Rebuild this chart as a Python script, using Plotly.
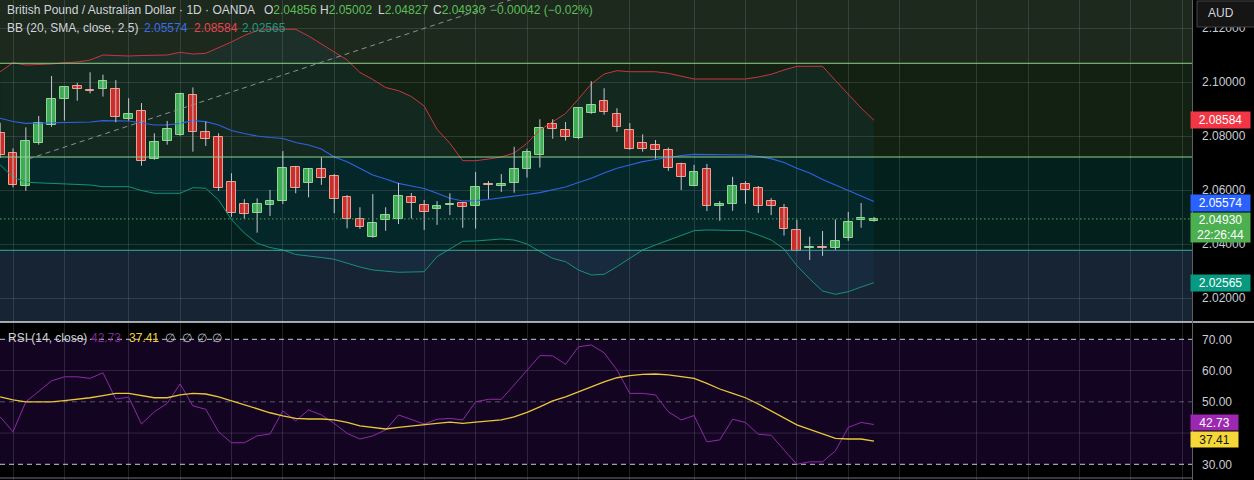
import plotly.graph_objects as go

# ---------------- data ----------------
opens = [2.0810, 2.0736, 2.0616, 2.0775, 2.0842, 2.0936, 2.0984, 2.0970, 2.0973, 2.0973,
         2.0864, 2.0891, 2.0714, 2.0780, 2.0803, 2.0951, 2.0814, 2.0795, 2.0631, 2.0547,
         2.0514, 2.0543, 2.0558, 2.0684, 2.0625, 2.0677, 2.0651, 2.0573, 2.0494, 2.0425,
         2.0488, 2.0494, 2.0573, 2.0543, 2.0529, 2.0544, 2.0551, 2.0540, 2.0623, 2.0616,
         2.0627, 2.0679, 2.0730, 2.0843, 2.0822, 2.0794, 2.0884, 2.0929, 2.0880, 2.0821,
         2.0773, 2.0766, 2.0748, 2.0695, 2.0616, 2.0677, 2.0542, 2.0549, 2.0622, 2.0606,
         2.0558, 2.0532, 2.0451, 2.0385, 2.0389, 2.0385, 2.0422, 2.0488, 2.04856]
highs = [2.0849, 2.0754, 2.0832, 2.0874, 2.1022, 2.0982, 2.0997, 2.1036, 2.1027, 2.1007,
         2.0940, 2.0922, 2.0810, 2.0856, 2.0960, 2.0980, 2.0853, 2.0810, 2.0662, 2.0566,
         2.0569, 2.0600, 2.0744, 2.0689, 2.0681, 2.0721, 2.0659, 2.0581, 2.0536, 2.0585,
         2.0536, 2.0626, 2.0589, 2.0563, 2.0559, 2.0588, 2.0556, 2.0667, 2.0633, 2.0659,
         2.0760, 2.0753, 2.0862, 2.0862, 2.0852, 2.0905, 2.1003, 2.0977, 2.0903, 2.0848,
         2.0806, 2.0785, 2.0757, 2.0701, 2.0693, 2.0696, 2.0559, 2.0649, 2.0633, 2.0615,
         2.0570, 2.0548, 2.0489, 2.0427, 2.0448, 2.0491, 2.0519, 2.0552, 2.05002]
lows = [2.0719, 2.0610, 2.0597, 2.0768, 2.0834, 2.0857, 2.0931, 2.0958, 2.0946, 2.0851,
        2.0857, 2.0690, 2.0712, 2.0768, 2.0801, 2.0742, 2.0763, 2.0597, 2.0501, 2.0493,
        2.0442, 2.0504, 2.0548, 2.0588, 2.0573, 2.0619, 2.0514, 2.0458, 2.0456, 2.0423,
        2.0449, 2.0474, 2.0494, 2.0452, 2.0471, 2.0507, 2.0460, 2.0457, 2.0567, 2.0593,
        2.0590, 2.0646, 2.0683, 2.0790, 2.0783, 2.0788, 2.0882, 2.0879, 2.0816, 2.0749,
        2.0742, 2.0716, 2.0671, 2.0600, 2.0614, 2.0522, 2.0486, 2.0523, 2.0549, 2.0515,
        2.0507, 2.0431, 2.0373, 2.0341, 2.0356, 2.0378, 2.0412, 2.0460, 2.04827]
closes = [2.0730, 2.0619, 2.0781, 2.0847, 2.0936, 2.0980, 2.0975, 2.0967, 2.1003, 2.0869,
          2.0880, 2.0706, 2.0777, 2.0825, 2.0956, 2.0814, 2.0788, 2.0606, 2.0514, 2.0510,
          2.0547, 2.0558, 2.0680, 2.0606, 2.0677, 2.0643, 2.0566, 2.0494, 2.0462, 2.0478,
          2.0506, 2.0577, 2.0551, 2.0520, 2.0541, 2.0548, 2.0536, 2.0611, 2.0619, 2.0622,
          2.0678, 2.0740, 2.0829, 2.0825, 2.0797, 2.0903, 2.0914, 2.0888, 2.0832, 2.0751,
          2.0751, 2.0747, 2.0683, 2.0647, 2.0666, 2.0540, 2.0548, 2.0614, 2.0601, 2.0542,
          2.0540, 2.0457, 2.0375, 2.0389, 2.0385, 2.0410, 2.0480, 2.04972, 2.04930]

bb_upper = [2.10381, 2.10715, 2.10630, 2.10641, 2.10667, 2.10715, 2.10741, 2.10815, 2.11000, 2.10981,
            2.10963, 2.10981, 2.11000, 2.11000, 2.11100, 2.11037, 2.11063, 2.11259, 2.11481, 2.11722,
            2.11907, 2.11952, 2.11952, 2.11952, 2.11704, 2.11407, 2.11130, 2.10815, 2.10352, 2.10093,
            2.09796, 2.09678, 2.09463, 2.09111, 2.08248, 2.07730, 2.07085, 2.07085, 2.07148, 2.07222,
            2.07370, 2.07730, 2.08222, 2.08530, 2.08833, 2.09370, 2.09926, 2.10296, 2.10419, 2.10381,
            2.10381, 2.10381, 2.10322, 2.10222, 2.10111, 2.10111, 2.10111, 2.10111, 2.10111, 2.10185,
            2.10285, 2.10444, 2.10581, 2.10581, 2.10581, 2.10056, 2.09556, 2.09037, 2.08584]
bb_mid = [2.08656, 2.08537, 2.08470, 2.08481, 2.08489, 2.08493, 2.08500, 2.08519, 2.08567, 2.08563,
          2.08556, 2.08481, 2.08407, 2.08407, 2.08470, 2.08567, 2.08530, 2.08407, 2.08204, 2.08093,
          2.08000, 2.07944, 2.07907, 2.07759, 2.07667, 2.07519, 2.07222, 2.07048, 2.06796, 2.06556,
          2.06407, 2.06248, 2.06148, 2.06056, 2.05878, 2.05693, 2.05593, 2.05604, 2.05648, 2.05704,
          2.05752, 2.05833, 2.05900, 2.06000, 2.06111, 2.06278, 2.06433, 2.06630, 2.06804, 2.06926,
          2.07048, 2.07130, 2.07211, 2.07270, 2.07322, 2.07322, 2.07322, 2.07315, 2.07296, 2.07241,
          2.07159, 2.07019, 2.06804, 2.06630, 2.06389, 2.06185, 2.05981, 2.05778, 2.05574]
bb_lower = [2.06926, 2.06481, 2.06285, 2.06267, 2.06259, 2.06248, 2.06222, 2.06185, 2.06122, 2.06122,
            2.06122, 2.05981, 2.05878, 2.05878, 2.05878, 2.06085, 2.06063, 2.05630, 2.04907, 2.04407,
            2.04026, 2.03870, 2.03778, 2.03611, 2.03563, 2.03500, 2.03433, 2.03285, 2.03148, 2.03037,
            2.02981, 2.02952, 2.02963, 2.02974, 2.03530, 2.03804, 2.04100, 2.04111, 2.04148, 2.04185,
            2.04148, 2.04000, 2.03722, 2.03470, 2.03344, 2.03037, 2.02852, 2.02878, 2.03159, 2.03481,
            2.03778, 2.03963, 2.04148, 2.04333, 2.04493, 2.04519, 2.04519, 2.04507, 2.04493, 2.04333,
            2.04148, 2.03815, 2.03197, 2.02704, 2.02259, 2.02137, 2.02233, 2.02407, 2.02565]

rsi = [45.2, 40.4, 50.0, 53.2, 56.7, 58.0, 58.0, 57.5, 59.3, 50.9,
       51.5, 42.9, 46.8, 49.5, 55.7, 48.7, 47.6, 40.4, 36.9, 36.9,
       39.1, 39.7, 47.1, 43.9, 47.4, 45.8, 43.1, 39.9, 38.1, 39.1,
       41.0, 45.8, 44.4, 42.9, 44.4, 44.7, 44.2, 50.0, 50.8, 50.8,
       55.4, 60.0, 64.8, 64.7, 62.0, 67.6, 68.2, 65.7, 60.2, 52.7,
       52.7, 52.2, 46.8, 44.2, 45.6, 37.2, 37.8, 44.4, 43.4, 39.6,
       39.3, 34.6, 30.0, 30.8, 30.8, 34.3, 41.8, 43.4, 42.73]
rsi_ma = [51.6, 50.6, 50.0, 50.0, 50.0, 50.4, 50.8, 51.3, 52.0, 52.7,
          52.7, 51.9, 51.3, 51.3, 52.2, 52.7, 52.5, 51.6, 50.3, 49.0,
          47.7, 46.5, 45.5, 44.7, 44.5, 44.5, 44.2, 43.4, 42.3, 41.7,
          41.3, 41.8, 42.3, 42.8, 43.1, 43.5, 43.1, 43.5, 43.9, 44.2,
          45.2, 46.6, 48.4, 50.3, 51.6, 53.2, 54.8, 56.4, 57.7, 58.4,
          58.8, 58.9, 58.6, 58.0, 57.5, 55.9, 54.1, 52.7, 51.3, 49.3,
          47.1, 44.7, 42.6, 41.2, 39.7, 38.3, 38.1, 38.1, 37.41]

idx = list(range(len(closes)))
grid_idx = [1, 5, 10, 14, 18, 22, 26, 33, 37, 41, 45, 49, 54, 58, 62, 66, 70, 76, 80, 84, 88, 92]
price_ticks = [2.02, 2.04, 2.06, 2.08, 2.10, 2.12]
price_ticktext = ["2.02000", "2.04000", "2.06000", "2.08000", "2.10000", "2.12000"]
rsi_ticks = [30, 50, 60, 70]          # the 40.00 label is hidden behind the value tags
rsi_ticktext = ["30.00", "50.00", "60.00", "70.00"]
rsi_grid = [40, 60]
zone_levels = [2.10693, 2.07222, 2.03767]
trend_x = [2.2, 40.0]
trend_y = [2.07148, 2.13085]
prev_close = 2.04972

# ---------------- geometry helpers (layout only) ----------------
W, H = 1254, 480
def fx(px):
    return px / W
def fy(py):
    return 1 - py / H

PLOT_R = 1192
FONT = "Liberation Sans"
GRAY = "#d1d4dc"
GREEN_T = "#5cbf5a"
BLUE = "#3a6ee8"
RED = "#e8434f"
TEAL = "#1d9a86"

UP_FILL, UP_LINE = "#3fae49", "#8fdc8a"
DN_FILL, DN_LINE = "#d9261c", "#f6a38a"
WICK = "#c4c7cf"

fig = go.Figure()

# Bollinger fill
fig.add_trace(go.Scatter(x=idx, y=bb_lower, mode="lines", line=dict(width=0),
                         hoverinfo="skip", showlegend=False))
fig.add_trace(go.Scatter(x=idx, y=bb_upper, mode="lines", line=dict(width=0),
                         fill="tonexty", fillcolor="rgba(33,150,243,0.06)",
                         hoverinfo="skip", showlegend=False))
fig.add_trace(go.Scatter(x=idx, y=bb_upper, mode="lines", line=dict(color="#c8363f", width=1),
                         hoverinfo="skip", showlegend=False))
fig.add_trace(go.Scatter(x=idx, y=bb_mid, mode="lines", line=dict(color="#2f62e0", width=1.2),
                         hoverinfo="skip", showlegend=False))
fig.add_trace(go.Scatter(x=idx, y=bb_lower, mode="lines", line=dict(color="#15917c", width=1),
                         hoverinfo="skip", showlegend=False))

# wicks
wx, wy = [], []
for i in idx:
    wx += [i, i, None]
    wy += [lows[i], highs[i], None]
fig.add_trace(go.Scatter(x=wx, y=wy, mode="lines", line=dict(color=WICK, width=1),
                         hoverinfo="skip", showlegend=False))

# bodies
base = [min(o, c) for o, c in zip(opens, closes)]
height = [max(abs(c - o), 0.00008) for o, c in zip(opens, closes)]
up = [c >= o for o, c in zip(opens, closes)]
fig.add_trace(go.Bar(x=idx, y=height, base=base, width=0.68,
                     marker=dict(color=[UP_FILL if u else DN_FILL for u in up],
                                 line=dict(color=[UP_LINE if u else DN_LINE for u in up], width=1)),
                     hoverinfo="skip", showlegend=False))

# RSI
fig.add_trace(go.Scatter(x=idx, y=rsi, mode="lines", line=dict(color="#8e2aa6", width=1),
                         xaxis="x2", yaxis="y2", hoverinfo="skip", showlegend=False))
fig.add_trace(go.Scatter(x=idx, y=rsi_ma, mode="lines", line=dict(color="#e8c83a", width=1.3),
                         xaxis="x2", yaxis="y2", hoverinfo="skip", showlegend=False))

shapes = []
# price zones
zone_bounds = [(zone_levels[0], 3.0, "#1d291d"),
               (zone_levels[1], zone_levels[0], "#132112"),
               (zone_levels[2], zone_levels[1], "#03201d"),
               (1.0, zone_levels[2], "#172434")]
for lo, hi, col in zone_bounds:
    shapes.append(dict(type="rect", xref="x domain", yref="y", x0=0, x1=1, y0=lo, y1=hi,
                       fillcolor=col, line=dict(width=0), layer="below"))
for lev, col in zip(zone_levels, ["#8fd48a", "#8fd48a", "#3aaaa0"]):
    shapes.append(dict(type="line", xref="x domain", yref="y", x0=0, x1=1, y0=lev, y1=lev,
                       line=dict(color=col, width=1), layer="above"))
# close dotted
shapes.append(dict(type="line", xref="x domain", yref="y", x0=0, x1=1, y0=closes[-1], y1=closes[-1],
                   line=dict(color="#4caf50", width=1, dash="1.5px,2.5px"), layer="above"))
# trend line
shapes.append(dict(type="line", xref="x", yref="y", x0=trend_x[0], x1=trend_x[1],
                   y0=trend_y[0], y1=trend_y[1],
                   line=dict(color="#8c9096", width=1, dash="5px,4px"), layer="above"))
# RSI band fill + grid
shapes.append(dict(type="rect", xref="x2 domain", yref="y2", x0=0, x1=1, y0=30, y1=70,
                   fillcolor="#130522", line=dict(width=0), layer="below"))
for g in rsi_grid:
    shapes.append(dict(type="line", xref="x2 domain", yref="y2", x0=0, x1=1, y0=g, y1=g,
                       line=dict(color="rgba(210,200,230,0.16)", width=1), layer="below"))
for lev, col in [(70, "#c8cad0"), (30, "#c8cad0"), (50, "rgba(150,150,170,0.55)")]:
    shapes.append(dict(type="line", xref="x2 domain", yref="y2", x0=0, x1=1, y0=lev, y1=lev,
                       line=dict(color=col, width=1, dash="5px,4px"), layer="below"))
# frame lines
shapes.append(dict(type="line", xref="paper", yref="paper", x0=0, x1=1, y0=fy(322), y1=fy(322),
                   line=dict(color="#d8dbe2", width=1.5), layer="above"))
shapes.append(dict(type="line", xref="paper", yref="paper", x0=0, x1=fx(PLOT_R), y0=fy(478), y1=fy(478),
                   line=dict(color="#6f7380", width=1), layer="above"))
shapes.append(dict(type="line", xref="paper", yref="paper", x0=fx(PLOT_R + 0.5), x1=fx(PLOT_R + 0.5),
                   y0=0, y1=1, line=dict(color="#5d606b", width=1), layer="above"))
# AUD box
shapes.append(dict(type="rect", xref="paper", yref="paper", x0=fx(1197), x1=fx(1262), y0=fy(27), y1=fy(1),
                   fillcolor="#151515", line=dict(color="#454545", width=1), layer="above"))

ann = []
def txt(px, py, text, color=GRAY, size=12):
    ann.append(dict(xref="paper", yref="paper", x=fx(px), y=fy(py), xanchor="left", yanchor="middle",
                    text=text, showarrow=False, font=dict(family=FONT, size=size, color=color)))

def ohlc_lbl(letter, val):
    return f"{letter}<span style='color:{GREEN_T}'>{val:.5f}</span>"

txt(5, 10, "British Pound / Australian Dollar · 1D · OANDA")
txt(261.5, 10, ohlc_lbl("O", opens[-1]))
txt(318, 10, ohlc_lbl("H", highs[-1]))
txt(375.5, 10, ohlc_lbl("L", lows[-1]))
txt(430.5, 10, ohlc_lbl("C", closes[-1]))
chg = closes[-1] - prev_close
txt(488, 10, f"−{abs(chg):.5f} (−{abs(chg) / prev_close * 100:.2f}%)", GREEN_T)

txt(5, 28, "BB (20, SMA, close, 2.5)")
txt(141.5, 28, f"{bb_mid[-1]:.5f}", BLUE)
txt(191.5, 28, f"{bb_upper[-1]:.5f}", RED)
txt(240, 28, f"{bb_lower[-1]:.5f}", TEAL)

txt(6, 337.5, "RSI (14, close)")
txt(89, 337.5, f"{rsi[-1]:.2f}", "#7e2a9b")
txt(126.5, 337.5, f"{rsi_ma[-1]:.2f}", "#f0d43a")
for px in [163.5, 180, 195, 210]:
    txt(px, 337.5, "∅", "#b8bbc4")

ann.append(dict(xref="paper", yref="paper", x=fx(1206), y=fy(13), xanchor="left", yanchor="middle",
                text="AUD", showarrow=False, font=dict(family=FONT, size=12, color=GRAY)))

def box(val, yref, bg, fg, text, w, h, yshift=0, yanchor="middle"):
    ann.append(dict(xref="paper", yref=yref, x=fx(1190), y=val, xanchor="left", yanchor=yanchor,
                    text=text, showarrow=False, bgcolor=bg, borderpad=1, width=w, height=h,
                    align="center", yshift=yshift,
                    font=dict(family=FONT, size=12, color=fg)))

box(bb_upper[-1], "y", "#f23645", "#ffffff", f"{bb_upper[-1]:.5f}", 57, 14)
box(bb_mid[-1], "y", "#2962ff", "#ffffff", f"{bb_mid[-1]:.5f}", 57, 14, yshift=-1)
box(closes[-1], "y", "#4caf50", "#ffffff", f"{closes[-1]:.5f}<br>22:26:44", 57, 27, yshift=7.2, yanchor="top")
box(bb_lower[-1], "y", "#089981", "#ffffff", f"{bb_lower[-1]:.5f}", 57, 14, yshift=-0.5)
box(rsi[-1], "y2", "#9c27b0", "#ffffff", f"{rsi[-1]:.2f}", 45, 13, yshift=2.5)
box(rsi_ma[-1], "y2", "#f5d838", "#131722", f"{rsi_ma[-1]:.2f}", 45, 13, yshift=1.5)

x_range = [-0.0117, 92.75]
grid_col = "rgba(200,210,205,0.15)"

fig.update_layout(
    width=W, height=H, autosize=False,
    margin=dict(l=0, r=0, t=0, b=0),
    paper_bgcolor="#000000", plot_bgcolor="#000000",
    showlegend=False, hovermode=False, bargap=0,
    font=dict(family=FONT, size=12, color=GRAY),
    xaxis=dict(domain=[0, fx(PLOT_R)], range=x_range, anchor="y",
               tickvals=grid_idx, showticklabels=False, ticks="",
               showgrid=True, gridcolor=grid_col, gridwidth=1, zeroline=False, showline=False,
               fixedrange=True),
    yaxis=dict(domain=[fy(322), 1], range=[2.01111, 2.13037], anchor="x", side="right",
               tickvals=price_ticks, ticktext=price_ticktext, ticks="",
               tickfont=dict(family=FONT, size=12, color="#c9ccd3"), ticklabelstandoff=9,
               showgrid=True, gridcolor=grid_col, gridwidth=1, zeroline=False, showline=False,
               fixedrange=True),
    xaxis2=dict(domain=[0, fx(PLOT_R)], range=x_range, anchor="y2", matches="x",
                tickvals=grid_idx, showticklabels=False, ticks="",
                showgrid=True, gridcolor="rgba(210,200,230,0.16)", gridwidth=1, zeroline=False,
                showline=False, fixedrange=True),
    yaxis2=dict(domain=[0, fy(323)], range=[24.98, 75.22], anchor="x2", side="right",
                tickvals=rsi_ticks, ticktext=rsi_ticktext, ticks="",
                tickfont=dict(family=FONT, size=12, color="#c9ccd3"), ticklabelstandoff=9,
                showgrid=False, zeroline=False, showline=False, fixedrange=True),
    shapes=shapes,
    annotations=ann,
)

fig.write_html("out.html", config={"displayModeBar": False},
               post_script="document.body.style.margin='0';document.body.style.padding='0';"
                           "document.body.style.background='#000';")
